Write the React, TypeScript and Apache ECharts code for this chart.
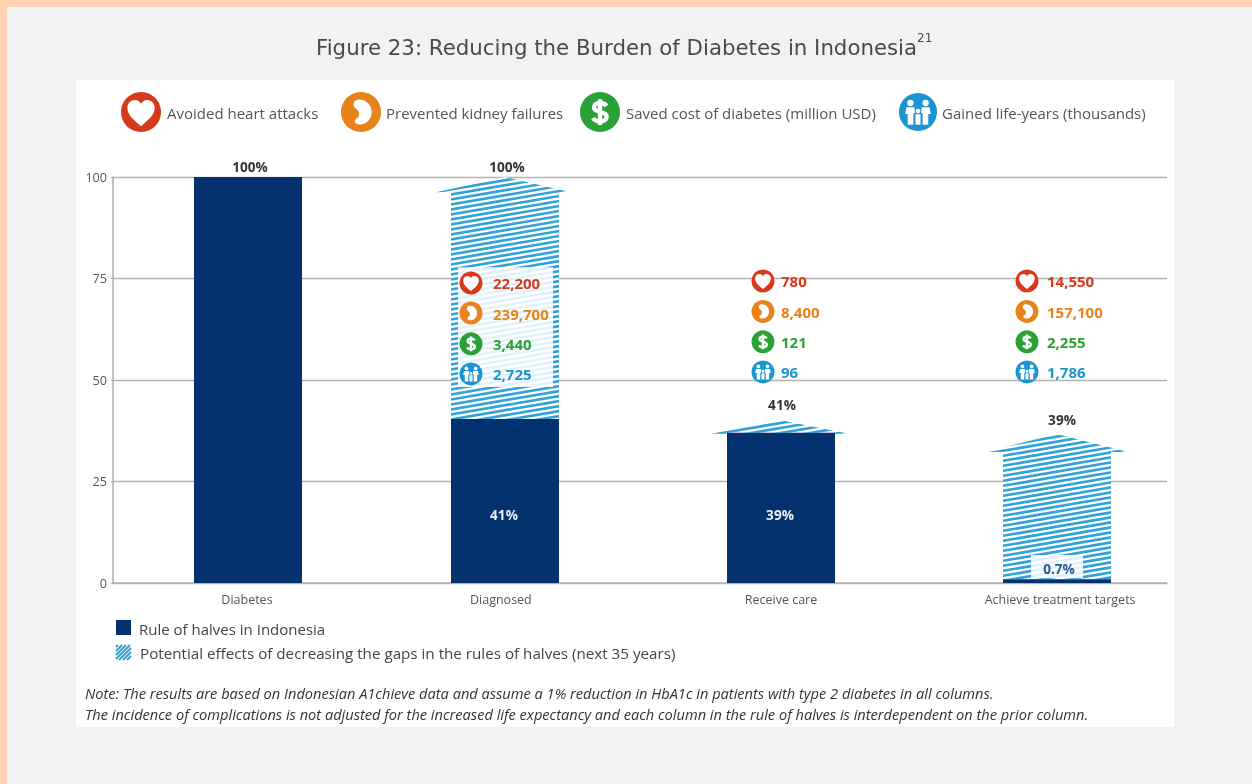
import React, { useEffect, useRef } from "react";
import * as echarts from "echarts";

const categories = ["Diabetes", "Diagnosed", "Receive care", "Achieve treatment targets"];
const columnPositions = [1, 2, 3.074, 4.148];
const categoryLabelPositions = [0.996, 1.984, 3.074, 4.16];
const ruleOfHalves = [100, 40.4, 37, 0.9];
const potentialApex = [null, 100, 40.1, 36.7];
const potentialEave = [null, 96.5, 37, 32.5];
const topLabels = ["100%", "100%", "41%", "39%"];
const topLabelValues = [102.7, 102.7, 44, 40.2];
const innerLabels = [null, "41%", "39%", "0.7%"];
const innerLabelValues = [null, 16.8, 16.8, 3.6];
const yTicks = { min: 0, max: 100, interval: 25 };

const avoidedHeartAttacks = ["22,200", "780", "14,550"];
const preventedKidneyFailures = ["239,700", "8,400", "157,100"];
const savedCost = ["3,440", "121", "2,255"];
const gainedLifeYears = ["2,725", "96", "1,786"];

const metricRowValues = [
  [73.9, 66.5, 58.9, 51.5],
  [74.4, 66.9, 59.4, 52],
  [74.4, 66.9, 59.4, 52],
];

const RED = "#d8391c", ORANGE = "#e8821a", GREEN = "#2aa137", BLUE = "#1b94d2";
const NAVY = "#03326f";
const HATCH = "#2fa2da";
const GRIDLINE = "#b2b2b2";
const FONT = '"Open Sans", "Noto Sans", sans-serif';

const HEART = "M12 20.5 C7 16.5 3.8 13.5 3.8 9.5 C3.8 6.5 6.2 4.8 8.3 4.8 C10 4.8 11.2 5.8 12 7 C12.8 5.8 14 4.8 15.7 4.8 C17.8 4.8 20.2 6.5 20.2 9.5 C20.2 13.5 17 16.5 12 20.5 Z";
const KIDNEY = "M9.8 4.6 C14.6 4 18.4 7.6 18.4 12.2 C18.4 16.8 14.6 20 10.6 19.5 C8 19.2 7.6 16.9 9.3 15.9 C10.6 15.1 11 13.9 10.8 12.4 C10.6 11 9.4 10.4 8.4 9.4 C6.8 7.8 7.6 4.9 9.8 4.6 Z";
const DOLLAR = "M15.9 8.4 C15.1 7.1 13.8 6.6 12 6.6 C9.9 6.6 8.4 7.6 8.4 9.1 C8.4 12.8 16 11.1 16 14.9 C16 16.6 14.2 17.6 12 17.6 C10.2 17.6 8.6 17 7.8 15.6 M12 4.4 V19.8";
const circ = (x: number, y: number, r: number) => `M${x - r} ${y} a${r} ${r} 0 1 0 ${2 * r} 0 a${r} ${r} 0 1 0 ${-2 * r} 0 Z`;
const FAMILY =
  circ(7.2, 6.3, 2) + circ(16.8, 6.3, 2) + circ(12, 11.4, 1.5) +
  "M4.7 9 H9.7 L10.1 12.6 L9.1 12.9 V20 H5.5 V13.2 H3.9 Z " +
  "M14.3 9 H19.3 L20.1 13.2 H18.5 V20 H14.9 V12.9 L13.9 12.6 Z " +
  "M10.4 13.5 H13.6 V20 H10.4 Z";

echarts.graphic.registerShape("iconHeart", echarts.graphic.extendPath(HEART, {}));
echarts.graphic.registerShape("iconKidney", echarts.graphic.extendPath(KIDNEY, {}));
echarts.graphic.registerShape("iconDollar", echarts.graphic.extendPath(DOLLAR, {}));
echarts.graphic.registerShape("iconFamily", echarts.graphic.extendPath(FAMILY, {}));

const metrics = [
  { shape: "iconHeart", color: RED, values: avoidedHeartAttacks, stroke: false },
  { shape: "iconKidney", color: ORANGE, values: preventedKidneyFailures, stroke: false },
  { shape: "iconDollar", color: GREEN, values: savedCost, stroke: true },
  { shape: "iconFamily", color: BLUE, values: gainedLifeYears, stroke: false },
];

function iconElements(kind: number, cx: number, cy: number, r: number) {
  const m = metrics[kind];
  const s = r / 12;
  return [
    { type: "circle", shape: { cx, cy, r }, style: { fill: m.color } },
    {
      type: m.shape,
      x: cx - 12 * s,
      y: cy - 12 * s,
      scaleX: s,
      scaleY: s,
      style: m.stroke ? { fill: "none", stroke: "#fff", lineWidth: 2.6 } : { fill: "#fff" },
    },
  ];
}

function stripes(left: number, right: number, top: number, bottom: number) {
  const out: any[] = [];
  const spacing = 5;
  const slope = 0.17;
  const rise = (right - left) * slope;
  for (let y = top; y <= bottom + rise + spacing; y += spacing) {
    out.push({
      type: "line",
      shape: { x1: left, y1: y, x2: right, y2: y - rise },
      style: { stroke: HATCH, lineWidth: 2.6 },
    });
  }
  return out;
}

const potentialData = columnPositions
  .map((x, i) => ({ x, i }))
  .filter((d) => potentialApex[d.i] !== null)
  .map((d) => [d.x, ruleOfHalves[d.i], potentialEave[d.i], potentialApex[d.i], d.i]);

const halfBar = 54;
const eaveOverhang: Record<number, number[]> = { 1: [15, 12], 2: [18, 14], 3: [19, 17] };
const whiteBoxes: Record<number, number[]> = { 1: [48.3, 77.8, -47, 48], 3: [1.2, 6.9, -26, 26] };

function renderPotential(params: any, api: any) {
  const x = api.value(0);
  const idx = api.value(4);
  const [cx, yBase] = api.coord([x, api.value(1)]);
  const yEave = api.coord([x, api.value(2)])[1];
  const yApex = api.coord([x, api.value(3)])[1];
  const [oL, oR] = eaveOverhang[idx];
  const L = cx - halfBar, R = cx + halfBar;
  const points = [
    [L, yBase], [L, yEave + 1], [L - oL, yEave + 1], [cx, yApex], [R + oR, yEave + 1], [R, yEave + 1], [R, yBase],
  ];
  const children: any[] = [
    { type: "polygon", shape: { points }, style: { fill: "#fff" } },
    {
      type: "group",
      clipPath: { type: "polygon", shape: { points } },
      children: stripes(L - oL, R + oR, yApex, yBase),
    },
  ];
  const box = whiteBoxes[idx];
  if (box) {
    const y1 = api.coord([x, box[1]])[1];
    const y0 = api.coord([x, box[0]])[1];
    children.push({
      type: "rect",
      shape: { x: cx + box[2], y: y1, width: box[3] - box[2], height: y0 - y1 },
      style: { fill: "rgba(255,255,255,0.86)" },
    });
  }
  return { type: "group", children };
}

const metricData: number[][] = [];
metricRowValues.forEach((rows, c) => rows.forEach((v, r) => metricData.push([columnPositions[c + 1], v, c, r])));
const iconOffset = [-34, -18, -30];
const textOffset = [-12, 0, -10];

function renderMetric(params: any, api: any) {
  const [px, py] = api.coord([api.value(0), api.value(1)]);
  const c = api.value(2), r = api.value(3);
  return {
    type: "group",
    children: [
      ...iconElements(r, px + iconOffset[c], py, 11.5),
      {
        type: "text",
        x: px + textOffset[c],
        y: py + 0.5,
        style: {
          text: metrics[r].values[c],
          fill: metrics[r].color,
          font: `bold 15px ${FONT}`,
          align: "left",
          verticalAlign: "middle",
        },
      },
    ],
  };
}

const labelData: any[] = [];
columnPositions.forEach((x, i) => {
  labelData.push([x, topLabelValues[i], i, 0]);
  if (innerLabels[i]) labelData.push([x, innerLabelValues[i], i, 1]);
});

function renderLabel(params: any, api: any) {
  const [px, py] = api.coord([api.value(0), api.value(1)]);
  const i = api.value(2), inner = api.value(3) === 1;
  const isBoxed = inner && i === 3;
  return {
    type: "text",
    x: px + (inner ? (isBoxed ? 2 : -1) : i === 3 ? 5 : i === 2 ? 1 : 2),
    y: py,
    style: {
      text: inner ? innerLabels[i] : topLabels[i],
      fill: isBoxed ? "#2a5a94" : inner ? "#e8eef6" : "#333",
      font: `bold 13.6px ${FONT}`,
      align: "center",
      verticalAlign: "middle",
    },
  };
}

const legendItems = [
  { kind: 0, cx: 141, r: 20, label: "Avoided heart attacks", x: 167 },
  { kind: 1, cx: 361, r: 20, label: "Prevented kidney failures", x: 386 },
  { kind: 2, cx: 600, r: 20, label: "Saved cost of diabetes (million USD)", x: 626 },
  { kind: 3, cx: 918, r: 19, label: "Gained life-years (thousands)", x: 942 },
];
const noteLines = [
  "Note: The results are based on Indonesian A1chieve data and assume a 1% reduction in HbA1c in patients with type 2 diabetes in all columns.",
  "The incidence of complications is not adjusted for the increased life expectancy and each column in the rule of halves is interdependent on the prior column.",
];

function legendHatch() {
  const x0 = 116, y0 = 645, size = 15;
  const lines: any[] = [];
  for (let d = 2; d <= 2 * size; d += 4) {
    lines.push({
      type: "line",
      shape: { x1: x0 + d, y1: y0, x2: x0 + d - size, y2: y0 + size },
      style: { stroke: HATCH, lineWidth: 2 },
    });
  }
  return {
    type: "group",
    children: lines.map((l) => {
      const s = { ...l.shape };
      if (s.x1 > x0 + size) {
        s.y1 = y0 + (s.x1 - (x0 + size));
        s.x1 = x0 + size;
      }
      if (s.x2 < x0) {
        s.y2 = y0 + size - (x0 - s.x2);
        s.x2 = x0;
      }
      return { ...l, shape: s };
    }),
  };
}

function buildGraphics() {
  const els: any[] = [
    { type: "rect", z: -10, shape: { x: 0, y: 0, width: 1252, height: 784 }, style: { fill: "#ffd3b4" } },
    { type: "rect", z: -9, shape: { x: 7, y: 7, width: 1245, height: 777 }, style: { fill: "#f2f2f2" } },
    { type: "rect", z: -8, shape: { x: 76, y: 80, width: 1098, height: 647 }, style: { fill: "#fff" } },
    {
      type: "text", x: 316, y: 47,
      style: { text: "Figure 23: Reducing the Burden of Diabetes in Indonesia", fill: "#4a4a4a", font: '21.3px "DejaVu Sans", sans-serif', align: "left", verticalAlign: "middle" },
    },
    {
      type: "text", x: 917, y: 38,
      style: { text: "21", fill: "#4a4a4a", font: '12px "DejaVu Sans", sans-serif', align: "left", verticalAlign: "middle" },
    },
    { type: "rect", shape: { x: 116, y: 620, width: 15, height: 15 }, style: { fill: NAVY } },
    legendHatch(),
    { type: "text", x: 139, y: 629, style: { text: "Rule of halves in Indonesia", fill: "#444", font: `15px ${FONT}`, align: "left", verticalAlign: "middle" } },
    { type: "text", x: 140, y: 653, style: { text: "Potential effects of decreasing the gaps in the rules of halves (next 35 years)", fill: "#444", font: `15.2px ${FONT}`, align: "left", verticalAlign: "middle" } },
  ];
  legendItems.forEach((it) => {
    els.push(...iconElements(it.kind, it.cx, 112, it.r));
    els.push({ type: "text", x: it.x, y: 113, style: { text: it.label, fill: "#555", font: `15px ${FONT}`, align: "left", verticalAlign: "middle" } });
  });
  noteLines.forEach((t, i) => {
    els.push({ type: "text", x: 85, y: 693 + i * 21, style: { text: t, fill: "#333", font: `italic 14.6px ${FONT}`, align: "left", verticalAlign: "middle" } });
  });
  return els;
}

export default function App() {
  const ref = useRef<HTMLDivElement>(null);
  useEffect(() => {
    const chart = echarts.init(ref.current!, null, { renderer: "svg" });
    chart.setOption({
      animation: false,
      backgroundColor: "transparent",
      graphic: buildGraphics(),
      grid: { left: 113, right: 85, top: 177, bottom: 201 },
      xAxis: {
        type: "value",
        min: 0.4747,
        max: 4.576,
        splitLine: { show: false },
        axisLine: { show: true, lineStyle: { color: GRIDLINE, width: 1.6 } },
        axisTick: { show: false },
        axisLabel: {
          customValues: categoryLabelPositions,
          margin: 10,
          color: "#555",
          fontSize: 12.5,
          fontFamily: FONT,
          formatter: (v: number) => categories[categoryLabelPositions.indexOf(v)] ?? "",
        },
      },
      yAxis: {
        type: "value",
        min: yTicks.min,
        max: yTicks.max,
        interval: yTicks.interval,
        axisLine: { show: true, lineStyle: { color: GRIDLINE, width: 1.6 } },
        axisTick: { show: true, length: 2, lineStyle: { color: GRIDLINE } },
        splitLine: { show: true, lineStyle: { color: GRIDLINE, width: 1.4 } },
        axisLabel: { color: "#555", fontSize: 12.6, fontFamily: FONT, margin: 6 },
      },
      series: [
        {
          type: "custom",
          name: "Potential effects of decreasing the gaps in the rules of halves (next 35 years)",
          clip: false,
          z: 2,
          renderItem: renderPotential,
          data: potentialData,
        },
        {
          type: "bar",
          name: "Rule of halves in Indonesia",
          barWidth: 108,
          z: 3,
          itemStyle: { color: NAVY },
          data: columnPositions.map((x, i) => [x, ruleOfHalves[i]]),
        },
        { type: "custom", name: "Effects", clip: false, z: 5, renderItem: renderMetric, data: metricData },
        { type: "custom", name: "Percent labels", clip: false, z: 6, renderItem: renderLabel, data: labelData },
      ],
    });
    return () => chart.dispose();
  }, []);
  return <div ref={ref} style={{ position: "fixed", left: 0, top: 0, width: 1252, height: 784 }} />;
}
